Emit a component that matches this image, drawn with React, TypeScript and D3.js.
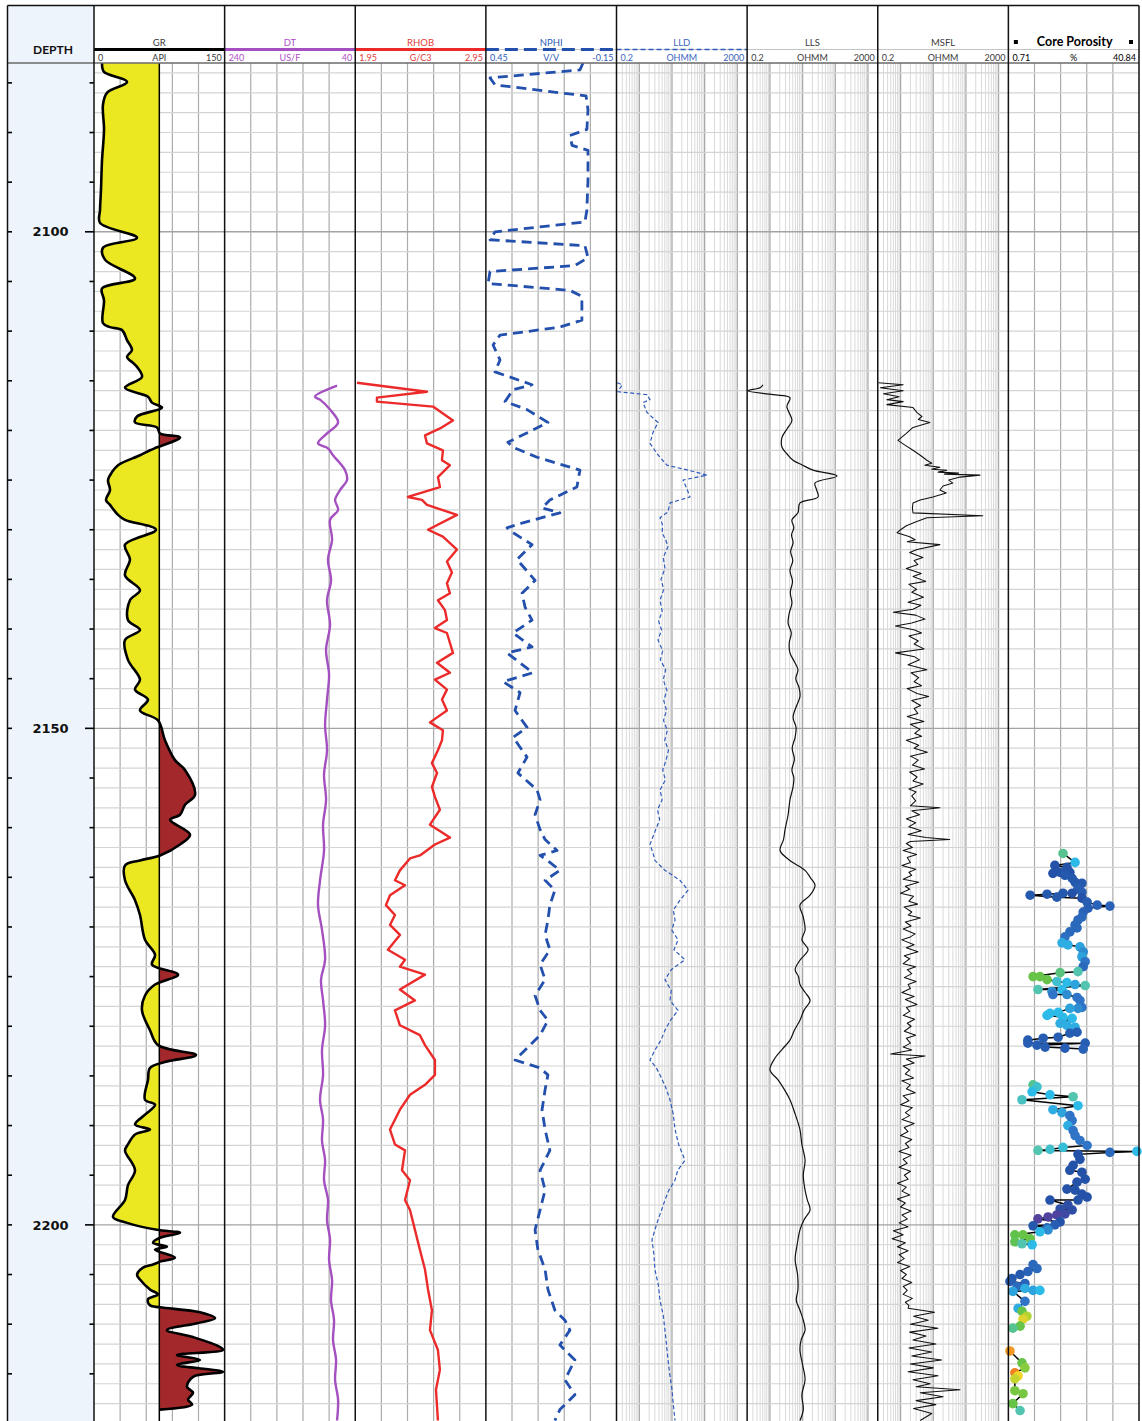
import React from "react";
import * as d3 from "d3";

// Depth window of the composite log (metres)
const depthTop = 2083;
const depthBottom = 2219.75;
const depthLabels = [2100, 2150, 2200];
const grCutoff = 75;

// [depth m, value]
const grLog: [number, number][] = [
  [2083.0, 9.2], [2083.9, 11.5], [2084.9, 37.9], [2086.0, 14.9], [2087.2, 10.3], [2089.7, 11.5], [2092.8, 9.2],
  [2095.8, 8.0], [2097.8, 6.9], [2099.1, 6.9], [2100.6, 49.4], [2101.6, 10.3], [2102.8, 12.6], [2104.7, 47.1],
  [2105.7, 9.2], [2106.9, 11.5], [2109.2, 10.3], [2109.6, 18.4], [2109.9, 32.2], [2110.9, 37.9], [2111.9, 43.6],
  [2112.6, 37.9], [2113.2, 44.8], [2113.6, 49.4], [2114.6, 55.1], [2115.7, 35.6], [2116.6, 62.0], [2117.2, 66.6],
  [2117.7, 78.1], [2118.6, 49.4], [2119.2, 47.1], [2119.7, 72.4], [2120.3, 75.8], [2120.7, 98.8], [2121.7, 72.4],
  [2122.0, 64.3], [2122.5, 52.8], [2123.5, 27.6], [2124.2, 20.7], [2125.0, 16.1], [2126.0, 18.4], [2127.0, 13.8],
  [2127.5, 18.4], [2128.5, 27.6], [2129.0, 35.6], [2130.0, 71.2], [2131.5, 35.6], [2133.0, 41.3], [2134.6, 35.6],
  [2136.1, 52.8], [2137.1, 41.3], [2139.1, 39.0], [2140.1, 52.8], [2141.1, 35.6], [2143.1, 39.0], [2145.1, 52.8],
  [2146.1, 47.1], [2147.1, 62.0], [2148.2, 52.8], [2149.2, 73.5], [2151.2, 81.5], [2153.2, 93.0], [2154.2, 104.5],
  [2156.7, 116.0], [2157.7, 104.5], [2158.7, 98.8], [2159.2, 87.3], [2160.7, 110.3], [2161.7, 98.8], [2162.8, 75.8],
  [2163.3, 52.8], [2163.8, 35.6], [2165.3, 35.6], [2167.3, 47.1], [2168.8, 52.8], [2171.3, 58.6], [2172.8, 70.1],
  [2173.8, 66.6], [2174.8, 96.5], [2175.8, 70.1], [2176.9, 58.6], [2178.4, 55.1], [2180.4, 64.3], [2181.9, 73.5],
  [2182.9, 117.1], [2183.6, 81.5], [2184.2, 64.3], [2185.4, 62.0], [2187.4, 58.6], [2187.9, 70.1], [2188.9, 58.6],
  [2189.9, 47.1], [2190.4, 64.3], [2190.9, 47.1], [2191.9, 39.0], [2192.5, 35.6], [2194.5, 47.1], [2196.0, 39.0],
  [2197.5, 35.6], [2199.2, 21.8], [2199.8, 37.9], [2200.5, 72.4], [2200.8, 98.8], [2201.3, 75.8], [2201.8, 67.8],
  [2202.2, 83.8], [2202.5, 70.1], [2203.3, 93.0], [2203.7, 75.8], [2204.0, 67.8], [2204.3, 56.3], [2205.0, 49.4],
  [2205.5, 52.8], [2206.5, 64.3], [2207.0, 73.5], [2207.5, 62.0], [2208.1, 64.3], [2208.3, 75.8], [2208.8, 121.7],
  [2209.4, 139.0], [2209.9, 118.3], [2210.6, 83.8], [2211.3, 113.7], [2212.3, 144.7], [2212.6, 148.2], [2213.1, 95.3],
  [2213.6, 121.7], [2214.1, 95.3], [2214.8, 148.2], [2215.3, 113.7], [2216.3, 106.8], [2216.9, 113.7], [2217.6, 108.0],
  [2218.1, 112.6], [2218.6, 75.8],
];

const dtLog: [number, number][] = [
  [2115.5, 67.9], [2116.6, 101.6], [2116.9, 93.9], [2117.9, 78.6], [2119.2, 66.3], [2120.3, 83.2], [2121.3, 97.0],
  [2121.8, 81.7], [2122.5, 74.0], [2124.0, 55.6], [2125.0, 52.6], [2126.0, 63.3], [2127.0, 70.9], [2128.0, 66.3],
  [2129.0, 78.6], [2131.0, 75.5], [2133.0, 81.7], [2135.1, 77.1], [2137.1, 83.2], [2139.6, 78.6], [2142.1, 84.7],
  [2144.6, 80.1], [2147.1, 83.2], [2149.7, 86.2], [2152.2, 83.2], [2154.7, 87.8], [2157.2, 84.7], [2159.7, 89.3],
  [2162.3, 87.8], [2165.3, 93.9], [2167.8, 97.0], [2170.3, 90.9], [2173.3, 86.2], [2175.3, 92.4], [2177.4, 89.3],
  [2179.9, 86.2], [2182.4, 90.9], [2184.9, 89.3], [2187.4, 93.9], [2189.4, 89.3], [2191.5, 90.9], [2193.5, 86.2],
  [2195.5, 87.8], [2197.5, 81.7], [2199.5, 83.2], [2201.5, 78.6], [2203.5, 80.1], [2205.6, 75.5], [2207.6, 77.1],
  [2209.6, 72.5], [2211.6, 74.0], [2213.6, 69.4], [2215.6, 70.9], [2217.6, 66.3], [2219.7, 67.9],
];

const rhobLog: [number, number][] = [
  [2115.2, 1.963], [2116.1, 2.499], [2116.7, 2.116], [2117.1, 2.116], [2117.6, 2.545], [2119.0, 2.698], [2119.8, 2.599],
  [2120.5, 2.484], [2121.3, 2.499], [2122.0, 2.621], [2123.0, 2.614], [2123.5, 2.675], [2124.7, 2.583], [2125.7, 2.598],
  [2126.7, 2.353], [2127.0, 2.461], [2127.5, 2.499], [2128.5, 2.729], [2130.0, 2.507], [2130.7, 2.621], [2132.0, 2.729],
  [2133.2, 2.652], [2134.3, 2.690], [2135.4, 2.652], [2136.4, 2.675], [2137.1, 2.583], [2138.1, 2.637], [2139.1, 2.652],
  [2139.9, 2.560], [2140.4, 2.652], [2142.4, 2.698], [2143.4, 2.576], [2144.4, 2.675], [2145.1, 2.560], [2146.1, 2.652],
  [2147.1, 2.614], [2148.2, 2.652], [2149.4, 2.522], [2150.2, 2.621], [2151.2, 2.614], [2152.2, 2.583], [2153.5, 2.537],
  [2154.5, 2.576], [2155.9, 2.537], [2156.9, 2.560], [2158.2, 2.598], [2159.7, 2.522], [2161.0, 2.675], [2161.7, 2.560],
  [2162.8, 2.445], [2163.1, 2.369], [2164.3, 2.292], [2165.3, 2.254], [2165.8, 2.331], [2166.8, 2.216], [2167.8, 2.185],
  [2168.8, 2.254], [2169.8, 2.216], [2170.8, 2.292], [2172.3, 2.200], [2173.3, 2.331], [2174.0, 2.292], [2174.8, 2.484],
  [2176.3, 2.292], [2177.4, 2.407], [2178.4, 2.254], [2179.9, 2.292], [2180.9, 2.445], [2181.9, 2.484], [2183.4, 2.560],
  [2184.9, 2.560], [2185.9, 2.484], [2186.9, 2.369], [2188.4, 2.292], [2190.4, 2.216], [2191.9, 2.254], [2192.5, 2.331],
  [2194.5, 2.308], [2195.5, 2.369], [2197.5, 2.331], [2198.5, 2.369], [2200.5, 2.407], [2202.5, 2.445], [2204.5, 2.484],
  [2206.5, 2.507], [2208.6, 2.537], [2210.6, 2.522], [2212.6, 2.583], [2214.6, 2.598], [2216.6, 2.568], [2219.7, 2.583],
];

const nphiLog: [number, number][] = [
  [2083.0, 0.004], [2083.7, 0.018], [2084.5, 0.431], [2085.2, 0.408], [2086.0, 0.110], [2086.3, -0.010], [2087.7, -0.019],
  [2089.7, -0.014], [2090.3, 0.064], [2091.3, 0.054], [2091.8, -0.019], [2094.8, -0.019], [2097.8, -0.014], [2099.0, -0.005],
  [2100.0, 0.408], [2100.8, 0.431], [2101.4, -0.005], [2102.6, -0.019], [2103.4, 0.041], [2104.0, 0.431], [2105.2, 0.440],
  [2105.9, 0.064], [2106.5, 0.009], [2108.9, 0.009], [2109.6, 0.110], [2110.4, 0.385], [2111.4, 0.417], [2112.9, 0.385],
  [2114.1, 0.408], [2115.4, 0.238], [2115.9, 0.325], [2117.1, 0.362], [2117.9, 0.261], [2119.2, 0.165], [2121.2, 0.349],
  [2121.7, 0.325], [2122.7, 0.215], [2124.0, 0.018], [2125.7, 0.032], [2127.0, 0.156], [2127.8, 0.192], [2128.3, 0.110],
  [2129.3, 0.280], [2129.8, 0.353], [2130.3, 0.325], [2131.5, 0.238], [2133.0, 0.307], [2135.1, 0.224], [2136.4, 0.284],
  [2137.8, 0.270], [2139.1, 0.238], [2140.4, 0.325], [2141.8, 0.238], [2142.4, 0.353], [2144.4, 0.234], [2145.3, 0.371],
  [2146.4, 0.293], [2148.2, 0.316], [2149.9, 0.261], [2150.9, 0.325], [2152.9, 0.261], [2154.5, 0.303], [2156.2, 0.215],
  [2157.2, 0.201], [2158.7, 0.224], [2160.2, 0.201], [2161.2, 0.178], [2162.3, 0.123], [2162.8, 0.201], [2163.5, 0.156],
  [2164.3, 0.110], [2165.3, 0.178], [2166.3, 0.133], [2167.8, 0.156], [2169.3, 0.165], [2170.8, 0.178], [2172.3, 0.156],
  [2173.8, 0.201], [2175.3, 0.178], [2176.9, 0.224], [2178.4, 0.201], [2179.4, 0.165], [2180.9, 0.201], [2182.9, 0.293],
  [2183.4, 0.316], [2184.2, 0.201], [2184.9, 0.165], [2186.4, 0.178], [2188.4, 0.192], [2190.4, 0.178], [2192.5, 0.156],
  [2194.5, 0.201], [2196.5, 0.178], [2198.5, 0.201], [2200.5, 0.224], [2202.5, 0.211], [2204.5, 0.178], [2206.5, 0.165],
  [2208.6, 0.133], [2209.6, 0.087], [2210.6, 0.064], [2212.1, 0.110], [2213.6, 0.041], [2215.6, 0.087], [2217.1, 0.041],
  [2218.6, 0.110], [2219.7, 0.133],
];

const lldLog: [number, number][] = [
  [2115.2, 0.21], [2115.4, 0.3], [2116.1, 0.22], [2116.4, 1.72], [2116.9, 2.12], [2117.2, 1.3], [2118.2, 1.72],
  [2119.2, 3.73], [2120.2, 2.62], [2121.3, 2.12], [2122.4, 3.6], [2123.5, 7.0], [2124.0, 31], [2124.5, 118],
  [2125.0, 21.8], [2125.8, 28], [2126.7, 35.7], [2127.3, 8.7], [2128.2, 7.55], [2128.8, 4.3], [2129.6, 5.2],
  [2130.3, 4.95], [2131.0, 6.4], [2131.7, 7.55], [2132.8, 5.4], [2133.9, 6.1], [2135.0, 4.6], [2136.0, 5.6],
  [2137.1, 4.3], [2138.2, 5.0], [2139.2, 3.9], [2140.1, 4.8], [2141.1, 3.73], [2142.2, 5.2], [2143.1, 4.4],
  [2144.1, 6.4], [2145.1, 5.4], [2146.2, 7.0], [2147.2, 5.6], [2148.2, 6.8], [2149.2, 5.5], [2150.2, 7.2],
  [2151.2, 6.0], [2152.2, 7.8], [2153.2, 6.6], [2154.2, 5.2], [2155.2, 6.3], [2156.2, 4.3], [2157.2, 5.0],
  [2158.2, 3.6], [2159.2, 4.2], [2160.4, 3.0], [2161.7, 2.12], [2162.5, 2.6], [2163.3, 3.0], [2164.3, 6.1],
  [2165.3, 17.6], [2166.3, 31], [2167.3, 17.6], [2168.3, 11], [2169.3, 12.4], [2170.3, 9.8], [2171.3, 15.3],
  [2172.3, 11.5], [2173.3, 25], [2174.3, 9.5], [2175.3, 6.1], [2176.4, 9.5], [2177.4, 8.7], [2178.4, 15.3],
  [2179.4, 9.0], [2180.4, 6.1], [2181.4, 4.6], [2182.4, 3.0], [2183.4, 2.12], [2184.1, 3.2], [2184.9, 4.3],
  [2186.2, 6.5], [2187.4, 8.7], [2188.9, 11], [2190.4, 12.4], [2191.9, 16], [2193.5, 25], [2194.5, 15],
  [2195.5, 12.4], [2196.5, 8.0], [2197.5, 6.1], [2198.5, 4.8], [2199.5, 3.73], [2200.5, 3.0], [2201.5, 2.44],
  [2203.0, 2.8], [2204.5, 3.0], [2206.0, 3.8], [2207.6, 4.3], [2209.1, 5.4], [2210.6, 6.1], [2212.1, 6.8],
  [2213.6, 7.55], [2215.1, 8.6], [2216.6, 10], [2218.1, 11], [2219.7, 12.4],
];

const llsLog: [number, number][] = [
  [2115.4, 0.61], [2115.7, 0.5], [2116.0, 0.21], [2116.4, 1.24], [2116.7, 4.1], [2117.6, 3.3], [2119.0, 4.7],
  [2119.8, 3.4], [2120.7, 2.34], [2121.7, 2.34], [2122.4, 3.4], [2123.0, 5.1], [2123.5, 10], [2124.0, 20.8],
  [2124.6, 113], [2125.3, 24], [2126.0, 27], [2126.7, 29.7], [2127.3, 8.3], [2128.3, 7.2], [2129.0, 4.7],
  [2129.8, 5.4], [2130.5, 4.6], [2131.3, 5.1], [2132.2, 4.3], [2133.1, 5.0], [2134.1, 4.1], [2135.2, 4.9],
  [2136.3, 4.2], [2137.4, 4.7], [2138.4, 3.9], [2139.4, 3.6], [2140.4, 4.5], [2141.4, 3.9], [2142.4, 4.1],
  [2143.3, 5.6], [2144.1, 7.2], [2145.0, 6.2], [2145.9, 7.8], [2146.8, 8.3], [2147.8, 6.4], [2148.9, 5.1],
  [2149.9, 6.3], [2150.9, 5.9], [2152.0, 4.8], [2153.1, 5.6], [2154.2, 4.7], [2155.0, 5.4], [2155.9, 5.1],
  [2157.2, 4.1], [2158.7, 3.6], [2160.2, 2.9], [2161.2, 2.6], [2162.3, 2.04], [2163.3, 4.1], [2164.3, 11.9],
  [2165.0, 17], [2165.8, 24], [2166.8, 16.9], [2167.8, 8.3], [2169.0, 10.5], [2170.3, 11.9], [2171.3, 9.5],
  [2172.3, 14.7], [2173.3, 8.5], [2174.3, 5.9], [2175.0, 7.5], [2175.8, 8.3], [2176.6, 12], [2177.4, 16.9],
  [2178.4, 11], [2179.4, 8.3], [2180.4, 5.6], [2181.4, 4.1], [2182.3, 2.4], [2183.2, 1.43], [2184.4, 1.0],
  [2185.4, 1.77], [2186.4, 2.8], [2187.4, 4.1], [2188.9, 6.0], [2190.4, 8.3], [2191.9, 9.5], [2193.5, 11.9],
  [2195.0, 10.5], [2196.5, 11.9], [2197.5, 14], [2198.5, 16.9], [2199.5, 11], [2200.5, 8.3], [2202.0, 6.8],
  [2203.5, 5.9], [2205.0, 7.0], [2206.5, 7.2], [2207.6, 6.4], [2208.6, 8.3], [2209.6, 10.5], [2210.6, 11.9],
  [2211.6, 9.0], [2212.6, 8.3], [2214.1, 10], [2215.6, 11.9], [2217.1, 9.5], [2218.6, 10.5], [2219.7, 8.3],
];

const msflLog: [number, number][] = [
  [2115.2, 0.21], [2115.4, 1.2], [2115.7, 0.24], [2116.0, 1.2], [2116.3, 0.3], [2116.6, 0.9], [2116.9, 0.38],
  [2117.1, 1.2], [2117.4, 0.38], [2117.7, 2.4], [2118.2, 3.2], [2118.6, 4.5], [2118.9, 3.5], [2119.2, 7.9],
  [2119.7, 2.4], [2120.3, 1.5], [2121.0, 0.83], [2121.5, 1.4], [2122.0, 2.4], [2122.5, 4.0], [2123.0, 6.4],
  [2123.3, 9.0], [2123.5, 5.5], [2123.7, 16], [2123.9, 9], [2124.0, 26], [2124.2, 14], [2124.3, 60], [2124.4, 22],
  [2124.5, 270], [2124.7, 66], [2125.0, 30], [2125.3, 40], [2125.6, 20], [2126.0, 16], [2126.3, 25], [2126.7, 9.8],
  [2127.0, 4], [2127.3, 2.4], [2127.8, 2.3], [2128.3, 2.4], [2128.6, 330], [2128.8, 6.4], [2129.2, 3.0],
  [2129.6, 1.5], [2130.0, 1.0], [2130.3, 0.78], [2130.7, 1.9], [2131.0, 2.8], [2131.2, 1.6], [2131.5, 16],
  [2132.0, 3.2], [2132.3, 1.9], [2132.8, 4.8], [2133.1, 2.6], [2133.5, 3.4], [2133.9, 1.5], [2134.4, 4.3],
  [2134.7, 2.4], [2135.2, 5.9], [2135.5, 1.8], [2136.0, 3.1], [2136.3, 2.2], [2136.8, 5.0], [2137.3, 1.7],
  [2137.6, 4.2], [2138.0, 2.4], [2138.3, 0.6], [2138.6, 2.9], [2139.0, 5.6], [2139.4, 2.2], [2139.7, 0.7],
  [2140.1, 2.7], [2140.4, 4.4], [2140.7, 1.8], [2141.2, 3.5], [2141.5, 2.6], [2142.0, 5.2], [2142.4, 0.7],
  [2142.8, 2.7], [2143.1, 3.8], [2143.6, 1.7], [2144.1, 6.4], [2144.4, 2.1], [2144.9, 3.6], [2145.3, 2.6],
  [2145.7, 4.4], [2146.0, 1.6], [2146.5, 3.2], [2146.8, 7.2], [2147.2, 2.2], [2147.7, 4.1], [2148.0, 2.6],
  [2148.5, 3.4], [2148.8, 1.6], [2149.3, 5.2], [2149.6, 2.0], [2150.1, 3.9], [2150.5, 2.7], [2150.8, 4.4],
  [2151.2, 1.5], [2151.7, 3.6], [2152.0, 2.6], [2152.4, 6.6], [2152.8, 2.0], [2153.2, 3.5], [2153.7, 2.3],
  [2154.1, 5.4], [2154.4, 1.9], [2154.9, 3.2], [2155.3, 2.4], [2155.6, 4.9], [2156.1, 1.8], [2156.4, 3.0],
  [2156.8, 2.2], [2157.3, 2.9], [2157.8, 2.0], [2158.0, 16], [2158.3, 2.2], [2158.7, 3.8], [2159.1, 1.5],
  [2159.5, 2.9], [2159.9, 1.8], [2160.3, 4.3], [2160.7, 1.7], [2161.0, 6.0], [2161.2, 32], [2161.4, 2.0],
  [2161.6, 1.5], [2162.0, 2.3], [2162.3, 1.2], [2162.7, 3.1], [2163.0, 1.6], [2163.5, 2.0], [2163.8, 1.1],
  [2164.2, 2.9], [2164.5, 1.8], [2164.8, 2.2], [2165.2, 1.2], [2165.5, 3.6], [2165.9, 1.4], [2166.2, 1.9],
  [2166.6, 1.0], [2166.9, 2.5], [2167.4, 1.8], [2167.7, 3.3], [2168.0, 1.3], [2168.5, 2.2], [2168.8, 1.7],
  [2169.1, 4.0], [2169.5, 1.4], [2169.9, 2.1], [2170.2, 1.2], [2170.7, 2.8], [2171.0, 2.0], [2171.3, 1.1],
  [2171.8, 2.6], [2172.1, 1.5], [2172.5, 3.4], [2172.9, 1.3], [2173.2, 1.9], [2173.7, 1.2], [2174.0, 2.9],
  [2174.3, 1.6], [2174.7, 2.2], [2175.1, 1.3], [2175.5, 3.0], [2175.8, 1.7], [2176.2, 2.0], [2176.6, 1.1],
  [2177.0, 2.6], [2177.3, 1.4], [2177.8, 3.2], [2178.1, 1.5], [2178.5, 1.9], [2178.9, 1.2], [2179.3, 2.7],
  [2179.7, 1.6], [2180.0, 2.1], [2180.5, 1.3], [2180.9, 2.9], [2181.2, 1.5], [2181.7, 2.0], [2182.1, 1.2],
  [2182.4, 2.2], [2182.8, 0.5], [2183.0, 5.6], [2183.3, 1.5], [2183.7, 2.6], [2184.0, 1.2], [2184.4, 1.9],
  [2184.8, 1.4], [2185.2, 2.5], [2185.5, 1.1], [2185.9, 2.0], [2186.3, 1.5], [2186.7, 2.8], [2187.0, 1.2],
  [2187.5, 1.8], [2187.9, 1.0], [2188.2, 2.3], [2188.7, 1.4], [2189.0, 1.9], [2189.4, 1.1], [2189.8, 2.6],
  [2190.2, 1.3], [2190.6, 1.7], [2191.0, 1.0], [2191.4, 2.2], [2191.8, 1.4], [2192.2, 1.8], [2192.6, 0.9],
  [2193.0, 2.1], [2193.4, 1.2], [2193.8, 1.6], [2194.2, 0.9], [2194.6, 2.0], [2195.0, 1.3], [2195.4, 1.7],
  [2195.8, 0.8], [2196.2, 1.5], [2196.6, 1.1], [2197.0, 1.9], [2197.4, 0.8], [2197.8, 1.4], [2198.2, 1.0],
  [2198.6, 2.1], [2199.0, 1.1], [2199.4, 1.6], [2199.8, 0.9], [2200.2, 1.7], [2200.6, 0.6], [2201.0, 1.2],
  [2201.4, 0.55], [2201.8, 1.4], [2202.2, 0.8], [2202.6, 1.7], [2203.0, 0.9], [2203.4, 1.3], [2203.8, 0.8],
  [2204.2, 1.9], [2204.6, 1.0], [2205.0, 1.5], [2205.4, 1.1], [2205.8, 2.2], [2206.2, 1.2], [2206.6, 1.6],
  [2207.0, 1.2], [2207.4, 2.3], [2207.8, 1.4], [2208.1, 1.8], [2208.4, 1.7],
  [2208.8, 11], [2209.2, 2.5], [2209.6, 7], [2210.0, 2.0], [2210.4, 14], [2210.8, 1.9], [2211.2, 6],
  [2211.6, 2.4], [2212.0, 12], [2212.4, 1.8], [2212.8, 9], [2213.2, 2.2], [2213.6, 18], [2214.0, 2.0],
  [2214.4, 10], [2214.8, 1.7], [2215.2, 14], [2215.6, 2.4], [2216.0, 8], [2216.3, 3.0], [2216.6, 66],
  [2216.9, 4], [2217.3, 20], [2217.7, 3], [2218.1, 12], [2218.5, 2.5], [2219.0, 9], [2219.7, 4],
];

// Core plugs: [depth m, porosity %, colour index 0..1]
const corePlugs: [number, number, number][] = [
  [2162.6, 17.5, 0.58], [2163.5, 21.2, 0.45], [2163.8, 15.0, 0.15], [2164.0, 18.7, 0.15], [2164.5, 16.6, 0.15],
  [2164.5, 19.6, 0.15], [2164.6, 14.4, 0.15], [2164.8, 18.1, 0.18], [2165.1, 20.3, 0.18], [2165.5, 21.2, 0.18],
  [2165.6, 23.3, 0.18], [2166.1, 22.1, 0.2], [2166.5, 23.3, 0.2], [2166.6, 20.3, 0.15], [2166.6, 17.5, 0.18],
  [2166.7, 12.6, 0.18], [2166.8, 7.4, 0.18], [2167.0, 15.6, 0.18], [2167.1, 23.3, 0.15], [2167.5, 24.9, 0.2],
  [2167.8, 28.0, 0.22], [2167.9, 31.9, 0.22], [2168.1, 25.2, 0.2], [2168.5, 23.7, 0.22], [2169.0, 23.3, 0.25],
  [2169.3, 22.1, 0.25], [2169.8, 21.2, 0.25], [2170.1, 21.8, 0.25], [2170.5, 19.6, 0.25], [2171.0, 18.1, 0.28],
  [2171.6, 17.2, 0.42], [2171.8, 19.0, 0.42], [2172.0, 22.7, 0.4], [2172.5, 23.7, 0.35], [2173.0, 23.3, 0.4],
  [2173.5, 24.3, 0.3], [2174.0, 23.7, 0.25], [2174.5, 22.1, 0.55], [2174.6, 16.6, 0.6], [2175.0, 8.3, 0.66],
  [2175.0, 10.4, 0.66], [2175.3, 12.6, 0.66], [2175.5, 15.6, 0.5], [2175.6, 18.7, 0.45], [2175.8, 21.2, 0.4],
  [2175.9, 24.3, 0.55], [2176.3, 9.8, 0.55], [2176.5, 14.1, 0.35], [2176.3, 17.2, 0.45], [2176.8, 14.4, 0.3],
  [2176.8, 18.7, 0.35], [2177.1, 21.8, 0.3], [2177.4, 22.7, 0.3], [2178.1, 23.3, 0.3], [2178.2, 22.1, 0.35],
  [2178.2, 19.6, 0.4], [2178.6, 16.0, 0.45], [2178.7, 13.5, 0.45], [2178.9, 12.6, 0.45], [2179.1, 17.5, 0.45],
  [2179.2, 20.3, 0.45], [2179.7, 16.6, 0.42], [2179.9, 18.7, 0.42], [2180.1, 21.2, 0.42], [2180.6, 21.8, 0.2],
  [2180.7, 19.6, 0.2], [2181.1, 16.0, 0.2], [2181.2, 11.4, 0.2], [2181.4, 6.7, 0.2], [2181.7, 6.7, 0.2],
  [2181.7, 24.3, 0.2], [2181.9, 9.5, 0.2], [2182.1, 12.0, 0.2], [2182.2, 18.1, 0.2], [2182.3, 23.7, 0.22],
  [2185.9, 8.3, 0.58], [2186.1, 9.5, 0.5], [2186.6, 8.0, 0.45], [2186.9, 13.5, 0.45], [2187.1, 20.6, 0.55],
  [2187.4, 4.9, 0.52], [2188.0, 22.1, 0.45], [2188.4, 14.4, 0.42], [2188.7, 17.2, 0.4], [2189.0, 19.6, 0.3],
  [2189.5, 20.3, 0.3], [2190.0, 19.0, 0.42], [2190.5, 20.6, 0.3], [2191.0, 21.2, 0.3], [2191.5, 22.7, 0.3],
  [2192.0, 24.9, 0.3], [2192.2, 17.5, 0.48], [2192.4, 13.5, 0.5], [2192.5, 9.8, 0.55], [2192.7, 31.9, 0.25],
  [2192.6, 40.2, 0.45], [2192.9, 22.1, 0.15], [2193.4, 22.7, 0.15], [2194.0, 20.6, 0.15], [2194.5, 19.6, 0.15],
  [2194.7, 23.3, 0.15], [2195.4, 24.3, 0.15], [2195.7, 21.8, 0.15], [2196.4, 18.7, 0.15], [2196.5, 21.2, 0.15],
  [2196.9, 23.3, 0.15], [2197.2, 24.9, 0.15], [2197.5, 22.1, 0.15], [2197.5, 13.5, 0.15], [2198.0, 19.0, 0.12],
  [2198.4, 16.6, 0.12], [2198.5, 20.3, 0.12], [2198.9, 18.1, 0.08], [2199.0, 15.6, 0.03], [2199.2, 12.9, 0.03],
  [2199.4, 9.8, 0.02], [2199.7, 16.6, 0.15], [2200.0, 15.0, 0.2], [2200.1, 8.3, 0.18], [2200.3, 12.6, 0.25],
  [2200.5, 12.9, 0.35], [2200.7, 10.4, 0.45], [2201.0, 2.7, 0.65], [2201.0, 5.2, 0.66], [2201.4, 7.4, 0.66],
  [2201.7, 2.7, 0.64], [2201.9, 4.9, 0.55], [2202.0, 8.0, 0.45],
  [2204.0, 8.3, 0.25], [2204.4, 9.5, 0.25], [2204.7, 6.7, 0.22], [2205.0, 4.3, 0.18], [2205.4, 1.8, 0.18],
  [2205.7, 1.2, 0.2], [2205.9, 5.8, 0.22], [2206.2, 3.4, 0.25], [2206.4, 5.8, 0.42], [2206.7, 2.1, 0.4],
  [2206.6, 8.3, 0.4], [2206.6, 10.4, 0.45], [2207.7, 5.8, 0.3], [2208.4, 3.7, 0.42], [2208.7, 4.9, 0.66],
  [2209.2, 6.4, 0.75], [2209.5, 5.2, 0.82], [2210.2, 4.3, 0.66], [2210.4, 2.1, 0.58],
  [2212.7, 1.2, 0.93], [2213.9, 4.9, 0.66], [2214.4, 5.8, 0.7], [2214.9, 2.7, 0.96], [2215.2, 3.7, 0.85],
  [2215.5, 2.7, 0.78], [2216.7, 2.7, 0.68], [2217.0, 5.2, 0.68], [2218.0, 2.1, 0.66], [2218.7, 4.3, 0.55],
];

const shadeStops = [0, 0.15, 0.3, 0.45, 0.55, 0.65, 0.75, 0.85, 0.95, 1];
const shadeColors = ["#5b3f9e", "#2352a8", "#2f74c6", "#2cbbe8", "#52c4b0", "#5fc24a", "#b3d334", "#f1d52a", "#f18a24", "#e5531f"];

type TrackDef = {
  name: string;
  unit: string;
  domain: [number, number];
  log: boolean;
  text: string;
  headerStroke: string | null;
  headerWidth: number;
  headerDash: string;
};

const trackDefs: TrackDef[] = [
  { name: "GR", unit: "API", domain: [0, 150], log: false, text: "#3a3a3a", headerStroke: "#000", headerWidth: 3, headerDash: "" },
  { name: "DT", unit: "US/F", domain: [240, 40], log: false, text: "#b04fc8", headerStroke: "#a450c0", headerWidth: 3, headerDash: "" },
  { name: "RHOB", unit: "G/C3", domain: [1.95, 2.95], log: false, text: "#e33b3b", headerStroke: "#ec2a2a", headerWidth: 3, headerDash: "" },
  { name: "NPHI", unit: "V/V", domain: [0.45, -0.15], log: false, text: "#2d5cb8", headerStroke: "#2350ac", headerWidth: 3, headerDash: "13,6" },
  { name: "LLD", unit: "OHMM", domain: [0.2, 2000], log: true, text: "#3b64bd", headerStroke: "#2f5bbb", headerWidth: 1.6, headerDash: "5,3" },
  { name: "LLS", unit: "OHMM", domain: [0.2, 2000], log: true, text: "#3a3a3a", headerStroke: null, headerWidth: 0, headerDash: "" },
  { name: "MSFL", unit: "OHMM", domain: [0.2, 2000], log: true, text: "#3a3a3a", headerStroke: null, headerWidth: 0, headerDash: "" },
  { name: "Core Porosity", unit: "%", domain: [0.71, 40.84], log: false, text: "#000", headerStroke: null, headerWidth: 0, headerDash: "" },
];

const curveDefs = [
  { track: 0, data: grLog, color: "#000000", width: 2.6, dash: "", smooth: true },
  { track: 1, data: dtLog, color: "#a450c0", width: 2.4, dash: "", smooth: true },
  { track: 2, data: rhobLog, color: "#ec2a2a", width: 2.4, dash: "", smooth: false },
  { track: 3, data: nphiLog, color: "#2350ac", width: 2.8, dash: "10,6", smooth: false },
  { track: 4, data: lldLog, color: "#2f5bbb", width: 1.2, dash: "4,2.5", smooth: false },
  { track: 5, data: llsLog, color: "#111111", width: 1.2, dash: "", smooth: true },
  { track: 6, data: msflLog, color: "#111111", width: 1.05, dash: "", smooth: false },
];

const W = 1142;
const H = 1421;
const LEFT = 7.5;
const TOP = 5.5;
const RIGHT = 1139;
const TITLE_LINE = 49.5;
const DATA_TOP = 63;
const DEPTH_RIGHT = 94;
const TRACK_W = (RIGHT - DEPTH_RIGHT) / trackDefs.length;

const labelFont = "Lato, 'Open Sans', sans-serif";

export default function App() {
  const y = d3.scaleLinear().domain([depthTop, depthBottom]).range([DATA_TOP, H]);

  const tracks = trackDefs.map((t, i) => {
    const x0 = DEPTH_RIGHT + i * TRACK_W;
    const x1 = x0 + TRACK_W;
    const scale = t.log
      ? d3.scaleLog().domain(t.domain).range([x0, x1])
      : d3.scaleLinear().domain(t.domain).range([x0, x1]);
    return { ...t, x0, x1, scale };
  });

  // grid
  const hLines = d3.range(2084, depthBottom, 2);
  const depthTicks = d3.range(2085, depthBottom, 5);

  const gridV: { x: number; major: boolean; log: boolean }[] = [];
  tracks.forEach((t) => {
    if (t.log) {
      [0.1, 1, 10, 100, 1000].forEach((dec) => {
        d3.range(1, 10).forEach((m) => {
          const v = dec * m;
          if (v > t.domain[0] + 1e-9 && v < t.domain[1] - 1e-9) {
            gridV.push({ x: t.scale(v) as number, major: m === 1, log: true });
          }
        });
      });
    } else {
      const [a, b] = t.domain;
      d3.range(1, 5).forEach((k) => {
        gridV.push({ x: t.scale(a + ((b - a) * k) / 5) as number, major: true, log: false });
      });
    }
  });

  const smoothCurve = d3.curveCatmullRom.alpha(0.5);

  // GR fill
  const gr = tracks[0];
  const grX = gr.scale as d3.ScaleLinear<number, number>;
  const cutX = grX(grCutoff);
  const grArea = d3
    .area<[number, number]>()
    .curve(smoothCurve)
    .y((d) => y(d[0]))
    .x0(cutX)
    .x1((d) => grX(d[1]));

  // core plug connector segments (break on gaps)
  const core = tracks[7];
  const coreX = core.scale as d3.ScaleLinear<number, number>;
  const sortedPlugs = [...corePlugs].sort((a, b) => a[0] - b[0]);
  const segments: [number, number, number][][] = [];
  sortedPlugs.forEach((p, i) => {
    if (i === 0 || p[0] - sortedPlugs[i - 1][0] > 1.5) segments.push([p]);
    else segments[segments.length - 1].push(p);
  });
  const coreLine = d3
    .line<[number, number, number]>()
    .x((d) => coreX(d[1]))
    .y((d) => y(d[0]));
  const shade = d3.scaleLinear<string>().domain(shadeStops).range(shadeColors).clamp(true);

  return (
    <div style={{ position: "absolute", left: 0, top: 0, width: W, height: H, background: "#fff" }}>
      <svg width={W} height={H} style={{ display: "block" }}>
        <defs>
          <clipPath id="grLeft">
            <rect x={gr.x0} y={DATA_TOP} width={cutX - gr.x0} height={H - DATA_TOP} />
          </clipPath>
          <clipPath id="grRight">
            <rect x={cutX} y={DATA_TOP} width={gr.x1 - cutX} height={H - DATA_TOP} />
          </clipPath>
          {tracks.map((t, i) => (
            <clipPath id={`trk${i}`} key={i}>
              <rect x={t.x0} y={DATA_TOP} width={t.x1 - t.x0} height={H - DATA_TOP} />
            </clipPath>
          ))}
        </defs>

        {/* depth column */}
        <rect x={LEFT} y={TOP} width={DEPTH_RIGHT - LEFT} height={H - TOP} fill="#eef4fb" />

        {/* vertical grid */}
        {gridV.map((g, i) => (
          <line
            key={`gv${i}`}
            x1={g.x}
            x2={g.x}
            y1={DATA_TOP}
            y2={H}
            stroke={g.log ? (g.major ? "#a9a9a9" : "#dadada") : "#ababab"}
            strokeWidth={g.log ? (g.major ? 1.3 : 1) : 1.2}
          />
        ))}
        {/* horizontal grid */}
        {hLines.map((d) => {
          const major = d % 50 === 0;
          return (
            <line
              key={`gh${d}`}
              x1={DEPTH_RIGHT}
              x2={RIGHT}
              y1={y(d)}
              y2={y(d)}
              stroke={major ? "#a3a3a3" : "#d4d4d4"}
              strokeWidth={major ? 1.4 : 1.2}
            />
          );
        })}

        {/* GR shading */}
        <path d={grArea(grLog) || ""} fill="#ebe821" clipPath="url(#grLeft)" />
        <path d={grArea(grLog) || ""} fill="#a3282b" clipPath="url(#grRight)" />
        <line x1={cutX} x2={cutX} y1={DATA_TOP} y2={H} stroke="#000" strokeWidth={1.5} />

        {/* curves */}
        {curveDefs.map((c, i) => {
          const t = tracks[c.track];
          const line = d3
            .line<[number, number]>()
            .x((d) => t.scale(d[1]) as number)
            .y((d) => y(d[0]));
          if (c.smooth) line.curve(smoothCurve);
          return (
            <path
              key={`c${i}`}
              d={line(c.data) || ""}
              fill="none"
              stroke={c.color}
              strokeWidth={c.width}
              strokeDasharray={c.dash || undefined}
              strokeLinejoin="round"
              clipPath={`url(#trk${c.track})`}
            />
          );
        })}

        {/* core plugs */}
        {segments.map((s, i) => (
          <path key={`cs${i}`} d={coreLine(s) || ""} fill="none" stroke="#000" strokeWidth={1.5} />
        ))}
        {corePlugs.map((p, i) => (
          <circle key={`cp${i}`} cx={coreX(p[1])} cy={y(p[0])} r={4.8} fill={shade(p[2])} />
        ))}

        {/* depth ticks and labels */}
        {depthTicks.map((d) => {
          const major = d % 50 === 0;
          return (
            <g key={`dt${d}`}>
              <line x1={LEFT} x2={LEFT + 4.5} y1={y(d)} y2={y(d)} stroke="#000" strokeWidth={1.6} />
              <line x1={DEPTH_RIGHT - (major ? 9 : 4.5)} x2={DEPTH_RIGHT} y1={y(d)} y2={y(d)} stroke="#000" strokeWidth={1.6} />
            </g>
          );
        })}
        {depthLabels.map((d) => (
          <text
            key={`dl${d}`}
            x={50.5}
            y={y(d)}
            dy="0.36em"
            textAnchor="middle"
            fontFamily="'DejaVu Sans', sans-serif"
            fontWeight="bold"
            fontSize={13}
            fill="#111"
          >
            {d}
          </text>
        ))}

        {/* header */}
        <rect x={DEPTH_RIGHT} y={TOP} width={RIGHT - DEPTH_RIGHT} height={DATA_TOP - TOP} fill="#fff" />
        <text x={53} y={53.5} textAnchor="middle" fontFamily={labelFont} fontWeight="bold" fontSize={12} fill="#111">
          DEPTH
        </text>
        <line x1={DEPTH_RIGHT} x2={RIGHT} y1={TITLE_LINE} y2={TITLE_LINE} stroke="#c4c4c4" strokeWidth={1} />
        {tracks.map((t, i) => {
          const isCore = i === 7;
          const cx = (t.x0 + t.x1) / 2;
          return (
            <g key={`h${i}`}>
              {t.headerStroke && (
                <line
                  x1={t.x0}
                  x2={t.x1}
                  y1={TITLE_LINE}
                  y2={TITLE_LINE}
                  stroke={t.headerStroke}
                  strokeWidth={t.headerWidth}
                  strokeDasharray={t.headerDash || undefined}
                />
              )}
              {isCore ? (
                <g>
                  <rect x={t.x0 + 5.5} y={40} width={4} height={4} fill="#000" />
                  <rect x={t.x1 - 10} y={40} width={4} height={4} fill="#000" />
                  <text x={cx + 1} y={46} textAnchor="middle" fontFamily={labelFont} fontWeight="bold" fontSize={12.5} fill="#000">
                    {t.name}
                  </text>
                </g>
              ) : (
                <text x={cx} y={46} textAnchor="middle" fontFamily={labelFont} fontSize={9.5} fill={t.text}>
                  {t.name}
                </text>
              )}
              <text x={t.x0 + 4} y={60.5} fontFamily={labelFont} fontSize={9} fill={t.text}>
                {String(t.domain[0])}
              </text>
              <text x={cx} y={60.5} textAnchor="middle" fontFamily={labelFont} fontSize={9} fill={t.text}>
                {t.unit}
              </text>
              <text x={t.x1 - 3} y={60.5} textAnchor="end" fontFamily={labelFont} fontSize={9} fill={t.text}>
                {String(t.domain[1])}
              </text>
            </g>
          );
        })}
        <line x1={LEFT} x2={RIGHT} y1={DATA_TOP} y2={DATA_TOP} stroke="#6a6a6a" strokeWidth={1.6} />

        {/* track separators and frame */}
        {[DEPTH_RIGHT, ...tracks.map((t) => t.x1)].map((x, i) => (
          <line key={`sep${i}`} x1={x} x2={x} y1={TOP} y2={H} stroke="#111" strokeWidth={1.5} />
        ))}
        <line x1={LEFT} x2={LEFT} y1={TOP} y2={H} stroke="#111" strokeWidth={1.5} />
        <line x1={LEFT} x2={RIGHT} y1={TOP} y2={TOP} stroke="#111" strokeWidth={1.5} />
      </svg>
    </div>
  );
}
